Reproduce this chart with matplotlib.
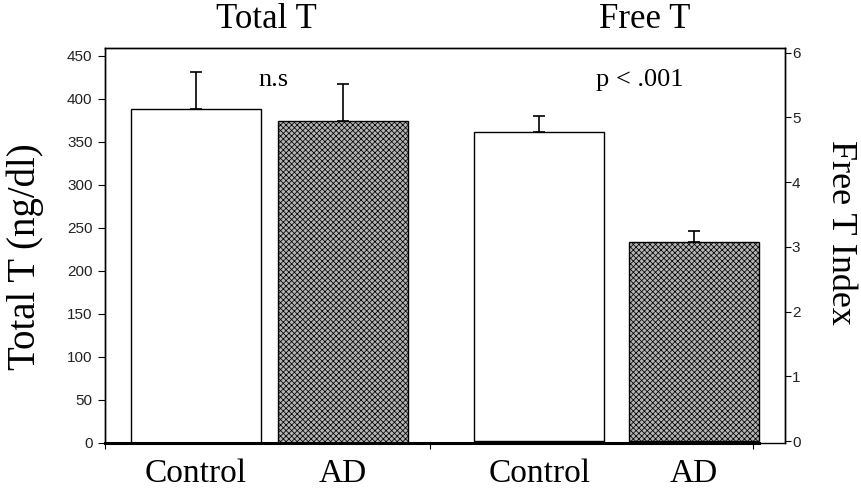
import matplotlib
matplotlib.use("Agg")
import matplotlib.pyplot as plt

# ---- data ----
groups = ["Control", "AD", "Control", "AD"]
total_t = [388, 374]          # ng/dl
total_t_err = [43, 43]
free_t = [4.77, 3.07]         # index
free_t_err = [0.25, 0.18]

titles = ["Total T", "Free T"]
notes = ["n.s", "p < .001"]
left_ticks = [0, 50, 100, 150, 200, 250, 300, 350, 400, 450]
right_ticks = [0, 1, 2, 3, 4, 5, 6]

# ---- layout ----
pos = [0.0, 1.13, 2.64, 3.83]
width = 1.0
serif = ["Liberation Serif", "DejaVu Serif"]
sans = ["Liberation Sans", "DejaVu Sans"]
plt.rcParams["hatch.color"] = "#1e1e1e"
plt.rcParams["hatch.linewidth"] = 0.55

fig = plt.figure(figsize=(8.62, 4.91), dpi=100)
ax = fig.add_axes([105 / 862, 1 - 443 / 491, 680 / 862, 395 / 491])
ax2 = ax.twinx()

fills = ["white", "#b4b4b4"]
hatches = [None, "xxxxxx"]

# Total T bars on left axis
for i in range(2):
    ax.bar(pos[i], total_t[i], width=width, color=fills[i], hatch=hatches[i],
           edgecolor="black", linewidth=1.0, zorder=2)
ax.errorbar(pos[:2], total_t, yerr=[[0, 0], total_t_err], fmt="none",
            ecolor="black", elinewidth=1.2, capsize=4, capthick=1.2, zorder=1)

# Free T bars on right axis
for i in range(2):
    ax2.bar(pos[2 + i], free_t[i], width=width, color=fills[i], hatch=hatches[i],
            edgecolor="black", linewidth=1.0, zorder=2)
ax2.errorbar(pos[2:], free_t, yerr=[[0, 0], free_t_err], fmt="none",
             ecolor="black", elinewidth=1.2, capsize=4, capthick=1.2, zorder=1)

ax.set_xlim(-0.70, 4.53)
ax.set_ylim(0, 459.3)
ax2.set_ylim(-0.03, 6.07)

ax.set_yticks(left_ticks)
ax.set_yticklabels([str(t) for t in left_ticks], family=sans, fontsize=11, color="#222222")
ax2.set_yticks(right_ticks)
ax2.set_yticklabels([str(t) for t in right_ticks], family=sans, fontsize=11, color="#222222")
ax.tick_params(axis="y", direction="out", length=5, width=0.8, pad=4)
ax2.tick_params(axis="y", direction="out", length=4, width=0.8, pad=1)

ax.set_xticks(pos)
ax.set_xticklabels(groups, family=serif, fontsize=24)
ax.tick_params(axis="x", which="major", length=0, pad=11)
ax.set_xticks([-0.70, 1.80, 4.285], minor=True)
ax.tick_params(axis="x", which="minor", direction="out", length=4, width=0.8)

for s in ("top", "left", "right"):
    ax.spines[s].set_linewidth(1.0)
    ax2.spines[s].set_linewidth(1.0)
# thick base under the bars, thin beyond the last bar
ax.spines["bottom"].set_linewidth(2.2)
ax.spines["bottom"].set_bounds(-0.70, pos[3] + width / 2)
ax2.spines["bottom"].set_linewidth(1.0)

ax.set_ylabel("Total T (ng/dl)", family=serif, fontsize=28)
ax.yaxis.set_label_coords(-0.09, 0.473)
ax2.set_ylabel("Free T Index", family=serif, fontsize=26, rotation=270, va="bottom")
ax2.yaxis.set_label_coords(1.058, 0.534)

# titles and significance notes
fig.text(266 / 862, 1 - 20 / 491, titles[0], family=serif, fontsize=25,
         ha="center", va="center")
fig.text(645 / 862, 1 - 20 / 491, titles[1], family=serif, fontsize=25,
         ha="center", va="center")
fig.text(274 / 862, 1 - 80 / 491, notes[0], family=serif, fontsize=19,
         ha="center", va="center")
fig.text(640 / 862, 1 - 80 / 491, notes[1], family=serif, fontsize=19,
         ha="center", va="center")

fig.savefig("out.png", dpi=100)
